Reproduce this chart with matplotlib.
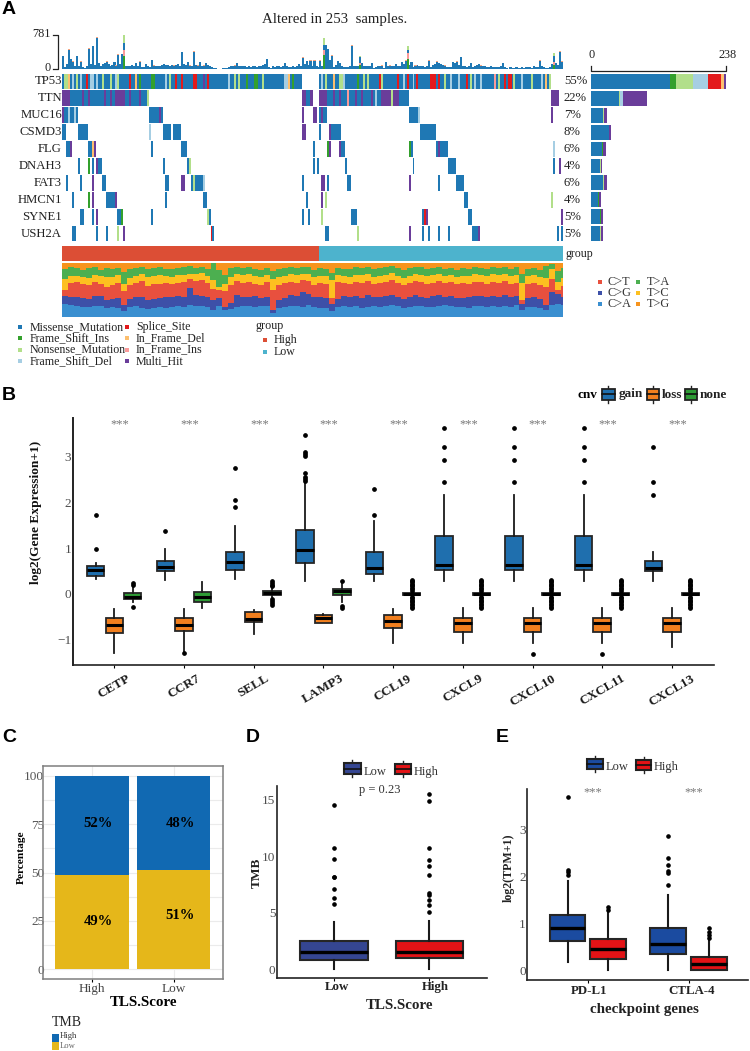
import numpy as np
import matplotlib
matplotlib.use("Agg")
import matplotlib.pyplot as plt
from matplotlib.patches import Rectangle

plt.rcParams['font.family'] = ['Liberation Serif', 'DejaVu Serif']

W, H = 750, 1051

# ---- panel A data ----
GENES = ["TP53", "TTN", "MUC16", "CSMD3", "FLG", "DNAH3", "FAT3", "HMCN1", "SYNE1", "USH2A"]
PCTS = ["55%", "22%", "7%", "8%", "6%", "4%", "6%", "4%", "5%", "5%"]
N_SAMPLES = 253
N_HIGH = 130

MUT_COLORS = {"M": "#1F78B4", "I": "#33A02C", "N": "#B2DF8A", "D": "#A6CEE3",
              "S": "#E31A1C", "F": "#FDBF6F", "P": "#FB9A99", "U": "#6A3D9A"}

TP53_HITS = [(0, 121, "M"), (130, 247, "M"),
    (1, 2, "N"), (2, 3, "N"), (3, 4, "F"), (5, 6, "D"), (7, 8, "N"), (9, 10, "D"), (12, 13, "S"),
    (14, 16, "D"), (17, 18, "D"), (20, 21, "N"), (24, 25, "N"), (27, 28, "D"), (28, 29, "N"),
    (34, 35, "S"), (37, 38, "F"), (39, 40, "I"), (45, 47, "I"), (52, 53, "D"), (54, 55, "N"),
    (57, 58, "S"), (60, 61, "S"), (66, 68, "S"), (71, 72, "U"), (73, 74, "S"), (84, 85, "D"),
    (87, 88, "N"), (89, 90, "N"), (93, 94, "I"), (97, 99, "I"), (101, 102, "N"), (112, 114, "D"),
    (114, 115, "F"), (116, 117, "I"), (131, 132, "D"), (133, 134, "N"), (137, 138, "F"),
    (140, 142, "N"), (142, 143, "D"), (149, 150, "I"), (152, 153, "N"), (154, 155, "N"),
    (160, 161, "S"), (161, 162, "N"), (169, 170, "S"), (172, 173, "D"), (174, 175, "S"),
    (177, 178, "D"), (179, 180, "S"), (186, 189, "S"), (190, 191, "S"), (193, 194, "N"),
    (196, 197, "D"), (200, 201, "D"), (204, 205, "S"), (206, 207, "N"), (208, 209, "D"),
    (211, 212, "D"), (218, 219, "P"), (220, 221, "N"), (223, 224, "S"), (225, 227, "S"),
    (228, 229, "N"), (232, 233, "D"), (237, 238, "N"), (242, 243, "D"), (244, 245, "F"),
    (246, 247, "N")]
TTN_HITS = [(0, 43, "M"), (43, 44, "N"), (121, 127, "M"), (130, 175, "M"), (247, 251, "U"),
    (0, 4, "U"), (10, 11, "U"), (13, 14, "U"), (21, 22, "U"), (24, 25, "U"), (27, 32, "U"),
    (34, 35, "U"), (39, 40, "U"), (121, 123, "U"), (125, 127, "U"), (130, 134, "U"),
    (137, 138, "U"), (140, 141, "U"), (144, 145, "P"), (148, 149, "U"), (151, 152, "U"),
    (156, 157, "U"), (158, 159, "D"), (163, 166, "U"), (169, 170, "U"), (161, 163, "U"),
    (166, 167, "N"), (167, 169, "U")]
MUC16_HITS = [(0, 8, "M"), (0, 1, "U"), (3, 4, "D"), (6, 7, "D"), (44, 51, "M"), (49, 50, "U"),
    (121, 122, "U"), (127, 129, "U"), (130, 134, "M"), (131, 132, "U"), (175, 180, "M"), (180, 181, "D"),
    (247, 248, "U")]
CSMD3_HITS = [(0, 2, "M"), (8, 13, "M"), (44, 45, "D"), (51, 55, "M"), (56, 60, "M"),
    (121, 123, "U"), (130, 131, "M"), (135, 141, "M"), (135, 136, "U"), (181, 189, "M")]
FLG_HITS = [(2, 5, "M"), (4, 5, "U"), (13, 15, "M"), (15, 16, "F"), (16, 17, "U"), (45, 46, "M"),
    (60, 63, "M"), (127, 128, "M"), (134, 135, "I"), (135, 136, "U"), (140, 143, "M"), (140, 141, "U"),
    (175, 177, "M"), (175, 176, "I"), (189, 195, "M"), (190, 191, "U"), (248, 249, "D")]
DNAH3_HITS = [(8, 9, "M"), (13, 14, "I"), (15, 16, "M"), (17, 20, "M"), (17, 18, "U"), (51, 52, "M"),
    (63, 64, "M"), (64, 65, "N"), (127, 128, "M"), (129, 130, "M"), (143, 144, "M"), (177, 178, "M"),
    (195, 199, "M"), (248, 249, "M"), (251, 252, "U")]
FAT3_HITS = [(2, 3, "M"), (9, 10, "M"), (15, 16, "U"), (20, 22, "M"), (52, 54, "M"), (60, 62, "U"),
    (65, 66, "M"), (66, 67, "N"), (67, 71, "M"), (71, 72, "D"), (121, 122, "M"), (131, 133, "U"),
    (134, 135, "M"), (144, 146, "M"), (175, 176, "U"), (190, 191, "M"), (199, 203, "M")]
HMCN1_HITS = [(5, 6, "M"), (13, 14, "I"), (15, 16, "U"), (22, 27, "M"), (27, 28, "U"), (52, 53, "M"),
    (71, 73, "M"), (123, 124, "M"), (131, 132, "U"), (133, 134, "N"), (203, 205, "M"), (247, 248, "N")]
SYNE1_HITS = [(9, 11, "M"), (15, 16, "M"), (17, 18, "U"), (28, 30, "M"), (30, 31, "I"), (45, 46, "M"),
    (73, 74, "N"), (74, 75, "M"), (121, 122, "M"), (124, 125, "M"), (131, 132, "N"), (146, 149, "M"),
    (182, 183, "M"), (183, 184, "S"), (184, 185, "U"), (205, 207, "M"), (252, 253, "U")]
USH2A_HITS = [(5, 7, "M"), (17, 18, "M"), (22, 23, "M"), (28, 29, "N"), (31, 32, "U"), (75, 76, "S"),
    (76, 77, "M"), (133, 135, "M"), (149, 150, "N"), (175, 176, "U"), (182, 183, "M"), (185, 186, "M"),
    (190, 191, "M"), (195, 196, "M"), (207, 210, "M"), (210, 211, "U"), (250, 251, "M"), (252, 253, "M")]
ALL_HITS = [TP53_HITS, TTN_HITS, MUC16_HITS, CSMD3_HITS, FLG_HITS, DNAH3_HITS, FAT3_HITS,
            HMCN1_HITS, SYNE1_HITS, USH2A_HITS]

# mutations per sample
TOP_TOTAL = [290, 50, 110, 440, 230, 170, 60, 300, 60, 170, 50, 30, 70, 470, 110, 520, 100, 720, 130, 60,
    110, 140, 170, 120, 60, 90, 150, 80, 330, 120, 340, 780, 70, 60, 70, 90, 70, 130, 60, 170,
    50, 50, 120, 70, 50, 200, 80, 60, 60, 70, 90, 110, 100, 90, 70, 90, 80, 90, 110, 60,
    390, 110, 90, 150, 80, 60, 400, 90, 80, 150, 70, 80, 130, 100, 70, 50, 30, 15, 10, 5,
    5, 30, 25, 30, 40, 60, 70, 80, 130, 70, 60, 70, 60, 50, 60, 50, 60, 70, 50, 60,
    60, 90, 120, 230, 50, 20, 60, 50, 60, 60, 50, 60, 130, 60, 50, 50, 60, 50, 70, 110,
    70, 260, 120, 180, 100, 190, 60, 190, 60, 40, 190, 70, 720, 540, 450, 200, 310, 50, 100, 180,
    130, 60, 50, 50, 40, 60, 530, 70, 70, 60, 300, 130, 60, 70, 60, 60, 140, 30, 50, 60,
    70, 80, 30, 150, 60, 80, 70, 60, 110, 60, 60, 150, 120, 190, 530, 100, 150, 50, 80, 90,
    60, 70, 60, 50, 60, 190, 40, 90, 120, 170, 130, 110, 90, 80, 50, 40, 50, 160, 130, 170,
    90, 270, 70, 60, 50, 60, 140, 40, 60, 90, 110, 80, 60, 70, 50, 40, 60, 50, 40, 50,
    40, 60, 140, 40, 30, 10, 50, 20, 30, 40, 30, 20, 50, 30, 40, 50, 40, 30, 60, 50,
    40, 190, 60, 40, 30, 30, 40, 120, 360, 130, 100, 395, 170]
# the few hypermutated samples, split by class
HYPER_IDX = [31, 132, 150, 174, 248]
HYPER_FSI = [290, 330, 90, 230, 100]
HYPER_MISS = [170, 115, 130, 60, 150]
HYPER_INS = [140, 115, 50, 140, 50]
HYPER_NONS = [180, 160, 30, 100, 60]

COUNT_MISSENSE = [139, 49, 22, 31, 19, 15, 22, 12, 16, 16]
COUNT_FSI = [11, 0, 0, 0, 2, 1, 0, 2, 1, 0]
COUNT_NONS = [29, 3, 1, 0, 0, 1, 1, 0, 1, 1]
COUNT_FSD = [28, 5, 0, 0, 0, 0, 0, 0, 0, 0]
COUNT_SPLICE = [22, 0, 0, 0, 0, 0, 0, 0, 0, 1]
COUNT_IFD = [6, 0, 0, 0, 0, 0, 0, 0, 0, 0]
COUNT_MULTI = [3, 41, 6, 4, 5, 3, 5, 4, 4, 4]

# cumulative share of each substitution class, one value per 3 samples
TITV_CA = [23, 22, 20, 18, 17, 19, 20, 16, 18, 15, 10, 17, 19, 15, 14, 16, 18, 16, 17, 19,
    18, 21, 19, 20, 17, 13, 19, 12, 14, 18, 19, 20, 17, 19, 20, 6, 15, 18, 20, 19,
    18, 21, 17, 16, 15, 11, 18, 20, 17, 19, 16, 18, 20, 17, 19, 21, 20, 16, 18, 20,
    19, 17, 18, 19, 21, 20, 18, 17, 16, 19, 20, 18, 19, 17, 20, 18, 21, 12, 17, 18,
    16, 12, 22, 23, 22]
TITV_CG = [38, 36, 37, 34, 33, 39, 38, 30, 32, 35, 21, 33, 37, 36, 30, 32, 34, 36, 37, 39,
    37, 53, 40, 38, 37, 31, 35, 17, 26, 40, 36, 37, 39, 35, 37, 12, 30, 35, 40, 39,
    45, 42, 36, 37, 34, 23, 33, 38, 36, 39, 35, 40, 37, 36, 38, 41, 36, 33, 37, 40,
    36, 35, 38, 40, 37, 38, 35, 34, 36, 39, 38, 36, 39, 37, 40, 36, 38, 23, 34, 36,
    32, 22, 45, 42, 37]
TITV_CT = [50, 62, 64, 60, 58, 65, 60, 55, 58, 62, 47, 58, 62, 66, 57, 60, 61, 62, 60, 63,
    65, 70, 66, 68, 62, 52, 50, 47, 58, 66, 63, 65, 61, 58, 64, 50, 59, 62, 64, 63,
    68, 66, 58, 62, 60, 35, 64, 62, 60, 65, 63, 66, 60, 62, 64, 68, 62, 58, 62, 66,
    64, 60, 63, 66, 62, 64, 60, 62, 61, 65, 64, 60, 65, 62, 66, 60, 63, 30, 60, 62,
    58, 55, 70, 50, 57]
TITV_TC = [70, 76, 75, 74, 72, 78, 76, 73, 74, 77, 60, 72, 76, 79, 74, 75, 77, 76, 74, 77,
    78, 80, 79, 82, 76, 68, 56, 60, 74, 80, 77, 79, 76, 74, 78, 70, 74, 76, 79, 77,
    80, 79, 73, 76, 75, 68, 78, 76, 74, 78, 77, 80, 74, 76, 78, 82, 76, 72, 76, 80,
    78, 75, 77, 80, 76, 78, 74, 76, 75, 79, 78, 75, 79, 77, 80, 75, 78, 62, 76, 78,
    74, 72, 88, 65, 72]
TITV_TA = [88, 92, 90, 86, 90, 92, 86, 90, 88, 91, 84, 88, 90, 92, 88, 90, 93, 88, 89, 90,
    92, 94, 90, 93, 88, 100, 86, 78, 90, 92, 90, 92, 89, 87, 91, 85, 88, 90, 93, 90,
    92, 93, 87, 90, 88, 82, 91, 89, 88, 92, 90, 93, 88, 90, 92, 94, 90, 86, 90, 92,
    92, 88, 90, 93, 89, 91, 87, 90, 88, 92, 91, 88, 92, 90, 93, 88, 92, 80, 89, 91,
    86, 95, 98, 85, 90]
TITV_COLORS = ["#3A8FD0", "#3D50A8", "#E8503E", "#FDC020", "#4CAF50", "#F7941D"]

# ---- panel B data: q1, median, q3, whisker low, whisker high, outliers ----
CNV_GENES = ["CETP", "CCR7", "SELL", "LAMP3", "CCL19", "CXCL9", "CXCL10", "CXCL11", "CXCL13"]
GAIN_BOX = [(0.40, 0.53, 0.61, 0.32, 0.67, [0.97, 1.73]),
    (0.50, 0.58, 0.71, 0.31, 0.99, [1.37]),
    (0.53, 0.69, 0.91, 0.32, 1.48, [1.91, 2.05, 2.75]),
    (0.68, 0.96, 1.39, 0.29, 2.45, [2.47, 2.52, 2.56, 2.65, 3.01, 3.07, 3.11, 3.47]),
    (0.43, 0.57, 0.92, 0.29, 1.59, [1.73, 2.30]),
    (0.51, 0.63, 1.27, 0.29, 2.17, [2.44, 2.93, 3.21, 3.64]),
    (0.51, 0.63, 1.27, 0.29, 2.17, [2.44, 2.93, 3.21, 3.64]),
    (0.51, 0.63, 1.27, 0.29, 2.17, [2.44, 2.93, 3.21, 3.64]),
    (0.50, 0.57, 0.71, 0.29, 0.92, [2.17, 2.44, 3.21])]
LOSS_BOX = [(-0.85, -0.69, -0.53, -1.30, -0.34, []),
    (-0.82, -0.68, -0.53, -1.27, -0.34, [-1.29]),
    (-0.62, -0.55, -0.41, -0.88, -0.35, []),
    (-0.65, -0.53, -0.47, -0.65, -0.45, []),
    (-0.75, -0.60, -0.46, -1.07, -0.34, []),
    (-0.83, -0.65, -0.52, -1.07, -0.32, []),
    (-0.83, -0.65, -0.52, -1.07, -0.32, [-1.31]),
    (-0.83, -0.65, -0.52, -1.07, -0.32, [-1.31]),
    (-0.83, -0.65, -0.52, -1.16, -0.32, [])]
NONE_CROSS = [-0.31, -0.28, -0.25, -0.22, -0.19, -0.16, -0.13, -0.10, -0.07,
    0.07, 0.10, 0.13, 0.16, 0.19, 0.22, 0.25, 0.28, 0.31]
NONE_BOX = [(-0.11, -0.06, 0.01, -0.17, 0.16, [-0.30, 0.20, 0.23]),
    (-0.17, -0.06, 0.03, -0.31, 0.25, []),
    (-0.02, 0.02, 0.07, -0.06, 0.12, [-0.24, -0.2, -0.16, -0.12, 0.16, 0.2, 0.24, 0.27]),
    (-0.02, 0.07, 0.10, -0.17, 0.23, [-0.31, -0.26, 0.27]),
    (-0.02, 0.0, 0.02, -0.04, 0.04, NONE_CROSS),
    (-0.02, 0.0, 0.02, -0.04, 0.04, NONE_CROSS),
    (-0.02, 0.0, 0.02, -0.04, 0.04, NONE_CROSS),
    (-0.02, 0.0, 0.02, -0.04, 0.04, NONE_CROSS),
    (-0.02, 0.0, 0.02, -0.04, 0.04, NONE_CROSS)]

# ---- panel C data ----
TLS_GROUPS = ["High", "Low"]
TMB_LOW_PCT = [48.6, 51.4]
TMB_HIGH_PCT = [51.4, 48.6]
TMB_LOW_LABELS = ["49%", "51%"]
TMB_HIGH_LABELS = ["52%", "48%"]

# ---- panel D data ----
TMB_BOX = [(0.82, 1.50, 2.50, 0.06, 4.18, [5.76, 6.32, 7.06, 8.12, 8.2, 9.74, 10.76, 14.56]),
    (1.03, 1.56, 2.50, 0.0, 4.26, [5.03, 5.68, 6.12, 6.56, 6.7, 8.32, 9.12, 9.65, 10.76, 14.85, 15.47])]

# ---- panel E data ----
CHECK_GENES = ["PD-L1", "CTLA-4"]
CHECK_LOW = [(0.62, 0.91, 1.18, 0.18, 1.91, [2.04, 2.09, 2.14, 3.69]),
    (0.34, 0.56, 0.91, 0.0, 1.61, [1.82, 2.07, 2.11, 2.25, 2.40, 2.86])]
CHECK_HIGH = [(0.24, 0.46, 0.66, 0.0, 1.25, [1.29, 1.36]),
    (0.01, 0.14, 0.29, 0.0, 0.64, [0.68, 0.75, 0.82, 0.91])]


def add_ax(x0, y0, x1, y1):
    return fig.add_axes([x0 / W, 1 - y1 / H, (x1 - x0) / W, (y1 - y0) / H])


def draw_boxes(ax, rows, positions, width, color, lw=1.3, med_lw=2.2, ms=2.4):
    stats = [dict(q1=r[0], med=r[1], q3=r[2], whislo=r[3], whishi=r[4], fliers=r[5]) for r in rows]
    ax.bxp(stats, positions=positions, widths=width, patch_artist=True, showcaps=False,
           manage_ticks=False,
           boxprops=dict(facecolor=color, edgecolor="#262626", linewidth=lw),
           whiskerprops=dict(color="#1a1a1a", linewidth=lw),
           medianprops=dict(color="black", linewidth=med_lw, solid_capstyle="butt"),
           flierprops=dict(marker="o", markerfacecolor="black", markeredgecolor="black", markersize=ms))


def style_classic(ax, ylabel_color="#4d4d4d"):
    for s in ["top", "right"]:
        ax.spines[s].set_visible(False)
    for s in ["left", "bottom"]:
        ax.spines[s].set_linewidth(1.2)
        ax.spines[s].set_color("#222222")
    ax.tick_params(axis="y", length=0, pad=1, labelsize=9.5, labelcolor=ylabel_color)
    ax.tick_params(axis="x", length=2, width=0.8)
    ax.patch.set_alpha(0)


def key(x0, x1, y0, y1, color, lw=1.3):
    ym = (y0 + y1) / 2
    xm = (x0 + x1) / 2
    ov.plot([xm, xm], [y0 - 3, y1 + 3], color="#222222", lw=1.0, zorder=3)
    ov.add_patch(Rectangle((x0, y0), x1 - x0, y1 - y0, fc=color, ec="#222222", lw=lw, zorder=4))
    ov.plot([x0, x1], [ym, ym], color="#111111", lw=1.2, zorder=5)


fig = plt.figure(figsize=(W / 100, H / 100), dpi=100)

# ---- A: top bars ----
ax = add_ax(62, 35, 563, 69)
xs = np.arange(N_SAMPLES) + 0.5
ax.bar(xs, TOP_TOTAL, width=1.05, color=MUT_COLORS["M"], linewidth=0)
ax.bar(xs, np.array(TOP_TOTAL) * 0.03, bottom=TOP_TOTAL, width=1.05, color="#F4A582", linewidth=0)
bottom = np.zeros(len(HYPER_IDX))
hyper_x = np.array(HYPER_IDX) + 0.5
ax.bar(hyper_x, [TOP_TOTAL[i] * 1.05 for i in HYPER_IDX], width=1.05, color="white", linewidth=0)
for vals, code in [(HYPER_FSI, "I"), (HYPER_INS, "P"), (HYPER_MISS, "M"), (HYPER_NONS, "N")]:
    ax.bar(hyper_x, vals, bottom=bottom, width=1.05, color=MUT_COLORS[code], linewidth=0)
    bottom += np.array(vals)
ax.set_xlim(0, N_SAMPLES)
ax.set_ylim(0, 781)
ax.axis("off")

# ---- A: oncoplot ----
ax = add_ax(62, 73, 563, 242)
for row, hits in enumerate(ALL_HITS):
    for start, end, code in hits:
        ax.broken_barh([(start, end - start)], (row + 0.03, 0.94), facecolors=MUT_COLORS[code], linewidth=0)
ax.set_xlim(0, N_SAMPLES)
ax.set_ylim(len(GENES), 0)
ax.axis("off")

# ---- A: right count bars ----
ax = add_ax(591, 73, 726, 242)
left = np.zeros(len(GENES))
rows = np.arange(len(GENES)) + 0.5
for vals, code in [(COUNT_MISSENSE, "M"), (COUNT_FSI, "I"), (COUNT_NONS, "N"), (COUNT_FSD, "D"),
                   (COUNT_SPLICE, "S"), (COUNT_IFD, "F"), (COUNT_MULTI, "U")]:
    ax.barh(rows, vals, left=left, height=0.88, color=MUT_COLORS[code], linewidth=0)
    left += np.array(vals)
ax.set_xlim(0, 238)
ax.set_ylim(len(GENES), 0)
ax.axis("off")

# ---- A: group strip ----
ax = add_ax(62, 246, 563, 260.5)
ax.barh([0], [N_HIGH], left=[0], height=1, color="#DC4E35", linewidth=0)
ax.barh([0], [N_SAMPLES - N_HIGH], left=[N_HIGH], height=1, color="#4DB3CD", linewidth=0)
ax.set_xlim(0, N_SAMPLES)
ax.set_ylim(-0.5, 0.5)
ax.axis("off")

# ---- A: substitution stack ----
ax = add_ax(62, 263, 563, 316.5)
titv_x = np.arange(len(TITV_CA)) * 3 + 1.5
base = np.zeros(len(TITV_CA))
for vals, col in zip([TITV_CA, TITV_CG, TITV_CT, TITV_TC, TITV_TA, [100] * len(TITV_CA)], TITV_COLORS):
    ax.bar(titv_x, np.array(vals) - base, bottom=base, width=3.02, color=col, linewidth=0)
    base = np.array(vals, dtype=float)
ax.set_xlim(0, N_SAMPLES)
ax.set_ylim(0, 100)
ax.axis("off")

# ---- B ----
ax = add_ax(72.7, 418, 714, 665)
cat_x = np.arange(len(CNV_GENES)) + 1
draw_boxes(ax, GAIN_BOX, cat_x - 0.267, 0.25, "#1F6FAE")
draw_boxes(ax, LOSS_BOX, cat_x, 0.25, "#F17F1E")
draw_boxes(ax, NONE_BOX, cat_x + 0.265, 0.25, "#2E9A35")
ax.set_xlim(0.403, 9.604)
ax.set_ylim(-1.56, 3.85)
ax.set_yticks([-1, 0, 1, 2, 3])
ax.set_yticklabels(["\u22121", "0", "1", "2", "3"])
ax.set_xticks(cat_x)
ax.set_xticklabels(CNV_GENES, rotation=30, ha="center", fontweight="bold", fontsize=9.5, color="#1a1a1a")
style_classic(ax)
ax.spines["left"].set_linewidth(1.4)
for x in cat_x:
    ax.text(x + 0.08, 3.71, "***", ha="center", va="center", fontsize=9, color="#777777")

# ---- C ----
ax = add_ax(42.7, 766, 222.7, 979)
ax.set_axisbelow(True)
ax.set_yticks(np.arange(0, 101, 12.5), minor=True)
ax.set_yticks([0, 25, 50, 75, 100])
ax.set_yticklabels(["0", "25", "50", "75", "100"])
ax.set_xticks([1, 2])
ax.set_xticklabels(TLS_GROUPS)
ax.grid(True, which="both", color="#ebebeb", lw=0.8)
ax.bar([1, 2], TMB_LOW_PCT, width=0.9, color="#E5B71A", linewidth=0)
ax.bar([1, 2], TMB_HIGH_PCT, bottom=TMB_LOW_PCT, width=0.9, color="#1169B2", linewidth=0)
ax.set_xlim(0.4, 2.6)
ax.set_ylim(-5, 105)
ax.tick_params(axis="y", which="both", length=0, pad=-1, labelsize=9.5, labelcolor="#555555")
ax.tick_params(axis="x", length=2, labelsize=9.5, labelcolor="#444444", pad=1)
for s in ax.spines.values():
    s.set_color("#7f7f7f")
    s.set_linewidth(1.1)
for i in range(2):
    ax.text(i + 1.08, TMB_LOW_PCT[i] * 0.5 + (0.5 if i == 0 else 2), TMB_LOW_LABELS[i], ha="center", va="center",
            fontweight="bold", fontsize=10.5)
    ax.text(i + 1.08, 75.5, TMB_HIGH_LABELS[i], ha="center", va="center", fontweight="bold", fontsize=10.5)

# ---- D ----
ax = add_ax(276.7, 786, 486.7, 978)
draw_boxes(ax, [TMB_BOX[0]], [0], 0.71, "#354692", lw=1.5, med_lw=2.4, ms=2.3)
draw_boxes(ax, [TMB_BOX[1]], [1], 0.71, "#E31316", lw=1.5, med_lw=2.4, ms=2.3)
ax.set_xlim(-0.6, 1.6)
ax.set_ylim(-0.77, 16.2)
ax.set_yticks([0, 5, 10, 15])
ax.set_xticks([0, 1])
ax.set_xticklabels(["", ""])
style_classic(ax)

# ---- E ----
ax = add_ax(527.3, 789, 748, 980)
check_x = np.arange(len(CHECK_GENES))
draw_boxes(ax, CHECK_LOW, check_x - 0.2, 0.355, "#1B4BA0", lw=1.5, med_lw=2.4, ms=2.3)
draw_boxes(ax, CHECK_HIGH, check_x + 0.2, 0.355, "#E31316", lw=1.5, med_lw=2.4, ms=2.3)
ax.set_xlim(-0.6, 1.59)
ax.set_ylim(-0.21, 3.87)
ax.set_yticks([0, 1, 2, 3])
ax.set_xticks(check_x)
ax.set_xticklabels(["", ""])
style_classic(ax)

# ---- overlay: all free text, legends and brackets in pixel space ----
ov = fig.add_axes([0, 0, 1, 1], zorder=10)
ov.set_xlim(0, W)
ov.set_ylim(H, 0)
ov.axis("off")

for lab, x, y in [("A", 2, 10), ("B", 2, 395), ("C", 2, 738), ("D", 246, 738), ("E", 496, 738)]:
    ov.text(x, y, lab, fontsize=14, fontweight="bold", va="center", family="Liberation Sans")

ov.text(334.5, 20, "Altered in 253  samples.", ha="center", va="center", fontsize=10.7, color="#222222")
ov.plot([53, 58, 58, 53], [35, 35, 68.5, 68.5], color="#222222", lw=0.9)
ov.text(51, 34, "781", ha="right", va="center", fontsize=8.8, color="#222222")
ov.text(51, 68, "0", ha="right", va="center", fontsize=8.8, color="#222222")
ov.plot([591, 591, 726, 726], [65.7, 70.7, 70.7, 65.7], color="#222222", lw=0.9)
ov.text(591.5, 55, "0", ha="center", va="center", fontsize=8.8, color="#222222")
ov.text(728, 55, "238", ha="center", va="center", fontsize=8.8, color="#222222")
for i, gene in enumerate(GENES):
    ov.text(62, 81.5 + 16.9 * i, gene, ha="right", va="center", fontsize=9.2, color="#222222")
    ov.text(564, 81.5 + 16.9 * i, PCTS[i], ha="left", va="center", fontsize=9.2, color="#222222")
ov.text(566, 254, "group", ha="left", va="center", fontsize=8.6, color="#222222")

mut_legend = [("Missense_Mutation", "M"), ("Frame_Shift_Ins", "I"), ("Nonsense_Mutation", "N"), ("Frame_Shift_Del", "D"),
              ("Splice_Site", "S"), ("In_Frame_Del", "F"), ("In_Frame_Ins", "P"), ("Multi_Hit", "U")]
leg_y = [327, 338, 349.5, 361]
for i, (name, code) in enumerate(mut_legend):
    col_x = (20, 30) if i < 4 else (127, 136)
    ov.scatter([col_x[0]], [leg_y[i % 4]], marker="s", s=9, color=MUT_COLORS[code], linewidths=0)
    ov.text(col_x[1], leg_y[i % 4], name, va="center", fontsize=8.6, color="#222222")

ov.text(256, 326, "group", va="center", fontsize=8.7, color="#222222")
for y, lab, col in [(340, "High", "#DC4E35"), (352, "Low", "#4DB3CD")]:
    ov.scatter([265], [y], marker="s", s=11, color=col, linewidths=0)
    ov.text(274, y, lab, va="center", fontsize=8.6, color="#222222")

titv_legend = [(600, 608, 282, "C>T", TITV_COLORS[2]), (600, 608, 293, "C>G", TITV_COLORS[1]), (600, 608, 304, "C>A", TITV_COLORS[0]),
               (638, 647, 282, "T>A", TITV_COLORS[4]), (638, 647, 293, "T>C", TITV_COLORS[3]), (638, 647, 304, "T>G", TITV_COLORS[5])]
for mx, tx, y, lab, col in titv_legend:
    ov.scatter([mx], [y], marker="s", s=11, color=col, linewidths=0)
    ov.text(tx, y, lab, va="center", fontsize=8.8, color="#333333")

ov.text(577, 394.5, "cnv", va="center", fontsize=9.5, fontweight="bold")
key(602, 614.5, 389, 399.5, "#1F6FAE")
ov.text(618.5, 394.5, "gain", va="center", fontsize=9.5, fontweight="bold", color="#222222")
key(647, 659, 389, 399.5, "#F17F1E")
ov.text(661.5, 394.5, "loss", va="center", fontsize=9.5, fontweight="bold", color="#222222")
key(684.5, 697, 389, 399.5, "#2E9A35")
ov.text(699.5, 394.5, "none", va="center", fontsize=9.5, fontweight="bold", color="#222222")
ov.text(36, 512, "log2(Gene Expression+1)", rotation=90, ha="center", va="center", fontsize=9.6, fontweight="bold", color="#111111")

ov.text(21, 857, "Percentage", rotation=90, ha="center", va="center", fontsize=8.2, fontweight="bold")
ov.text(143, 1003, "TLS.Score", ha="center", va="center", fontsize=10.8, fontweight="bold")
ov.text(52, 1023, "TMB", va="center", fontsize=10, color="#222222")
ov.add_patch(Rectangle((52, 1034), 7, 8, fc="#1169B2", lw=0))
ov.add_patch(Rectangle((52, 1042), 7, 8, fc="#E5B71A", lw=0))
ov.text(60, 1036, "High", va="center", fontsize=6.2, color="#333333")
ov.text(60, 1046, "Low", va="center", fontsize=6.2, color="#666666")

key(343.5, 360.5, 763, 774, "#354692", lw=1.5)
ov.text(363.7, 772, "Low", va="center", fontsize=9, color="#333333")
key(395, 410.5, 764, 774, "#E31316", lw=1.5)
ov.text(413.7, 772, "High", va="center", fontsize=9, color="#333333")
ov.text(380, 790.5, "p = 0.23", ha="center", va="center", fontsize=9, color="#333333")
ov.text(337, 987, "Low", ha="center", va="center", fontsize=9.3, fontweight="bold", color="#222222")
ov.text(435, 987, "High", ha="center", va="center", fontsize=9.3, fontweight="bold", color="#222222")
ov.text(400, 1005.5, "TLS.Score", ha="center", va="center", fontsize=10.8, fontweight="bold", color="#222222")
ov.text(257, 873, "TMB", rotation=90, ha="center", va="center", fontsize=9.6, fontweight="bold", color="#222222")

key(587, 603, 758.5, 769, "#1B4BA0", lw=1.5)
ov.text(606, 767, "Low", va="center", fontsize=9, color="#333333")
key(636, 651, 759.5, 769.5, "#E31316", lw=1.5)
ov.text(654, 767, "High", va="center", fontsize=9, color="#333333")
for x in [593, 693.5]:
    ov.text(x, 792, "***", ha="center", va="center", fontsize=9, color="#777777")
ov.text(589, 990.5, "PD-L1", ha="center", va="center", fontsize=9.3, fontweight="bold", color="#222222")
ov.text(692, 990.5, "CTLA-4", ha="center", va="center", fontsize=9.3, fontweight="bold", color="#222222")
ov.text(644, 1009, "checkpoint genes", ha="center", va="center", fontsize=10.8, fontweight="bold", color="#222222")
ov.text(509, 868, "log2(TPM+1)", rotation=90, ha="center", va="center", fontsize=8.6, fontweight="bold", color="#222222")

fig.savefig("out.png", dpi=100)
plt.close(fig)
